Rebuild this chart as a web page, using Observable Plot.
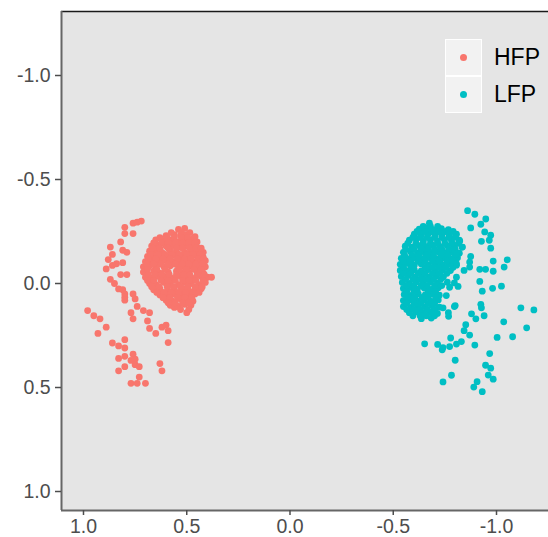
<!DOCTYPE html>
<html>
<head>
<meta charset="utf-8">
<script src="https://cdn.jsdelivr.net/npm/d3@7"></script>
<script src="https://cdn.jsdelivr.net/npm/@observablehq/plot@0.6"></script>
<style>
  html, body { margin: 0; padding: 0; background: #ffffff; }
  #wrap { position: relative; width: 548px; height: 537px; overflow: hidden; }
  #legend { position: absolute; left: 445px; top: 39px; font-family: "Liberation Sans", Arial, sans-serif; }
  .row { display: flex; align-items: center; height: 37px; }
  .key { box-sizing: border-box; width: 37px; height: 37px; background: #f2f2f2; border: 1.5px solid #ffffff; display: flex; align-items: center; justify-content: center; }
  .key span { display: block; width: 7px; height: 7px; border-radius: 50%; }
  .lab { margin-left: 12px; font-size: 23px; color: #000; line-height: 37px; }
</style>
</head>
<body>
<div id="wrap"></div>
<script>
// ---- data ----
const groups = ["HFP", "LFP"];
const groupColors = ["#F8766D", "#00BFC4"];
const tickValues = [-1.0, -0.5, 0.0, 0.5, 1.0];
const xDomain = [1.1065, -1.2518];
const yDomain = [1.0913, -1.3077];

const hfpPoints = [
  [0.54,-0.26],[0.51,-0.265],
  [0.60,-0.23],[0.56,-0.235],[0.53,-0.23],[0.50,-0.235],[0.46,-0.225],
  [0.65,-0.21],[0.61,-0.205],[0.58,-0.21],[0.54,-0.20],[0.51,-0.21],[0.48,-0.205],[0.45,-0.20],
  [0.67,-0.18],[0.64,-0.185],[0.60,-0.18],[0.57,-0.185],[0.53,-0.175],[0.50,-0.18],[0.47,-0.185],[0.44,-0.17],
  [0.68,-0.155],[0.65,-0.16],[0.62,-0.15],[0.58,-0.16],[0.55,-0.155],[0.51,-0.15],[0.48,-0.16],[0.45,-0.155],[0.42,-0.15],
  [0.69,-0.13],[0.66,-0.135],[0.63,-0.125],[0.59,-0.13],[0.56,-0.135],[0.52,-0.125],[0.49,-0.13],[0.46,-0.135],[0.42,-0.125],
  [0.70,-0.105],[0.67,-0.11],[0.64,-0.10],[0.60,-0.11],[0.57,-0.105],[0.53,-0.10],[0.50,-0.11],[0.47,-0.105],[0.43,-0.10],[0.41,-0.11],
  [0.71,-0.08],[0.68,-0.085],[0.65,-0.075],[0.61,-0.08],[0.58,-0.085],[0.54,-0.075],[0.51,-0.08],[0.48,-0.085],[0.44,-0.075],[0.41,-0.08],
  [0.71,-0.055],[0.66,-0.06],[0.63,-0.05],[0.59,-0.055],[0.55,-0.06],[0.52,-0.05],[0.49,-0.055],[0.45,-0.06],[0.42,-0.05],
  [0.70,-0.03],[0.67,-0.025],[0.64,-0.035],[0.60,-0.03],[0.57,-0.025],[0.53,-0.035],[0.50,-0.03],[0.47,-0.025],[0.43,-0.035],[0.40,-0.03],[0.38,-0.03],
  [0.68,0.00],[0.65,0.005],[0.61,-0.005],[0.58,0.00],[0.54,0.005],[0.51,-0.005],[0.48,0.00],[0.44,0.005],[0.41,-0.005],
  [0.66,0.03],[0.63,0.025],[0.59,0.035],[0.56,0.03],[0.52,0.025],[0.49,0.035],[0.46,0.03],[0.43,0.025],
  [0.63,0.055],[0.59,0.06],[0.56,0.05],[0.52,0.055],[0.49,0.06],[0.46,0.05],
  [0.60,0.08],[0.57,0.085],[0.53,0.075],[0.50,0.08],[0.47,0.085],
  [0.58,0.105],[0.54,0.11],[0.51,0.10],[0.48,0.105],[0.56,0.115],
  [0.50,0.14],
  [0.575,-0.245],[0.525,-0.245],[0.485,-0.245],
  [0.63,-0.22],[0.595,-0.22],[0.56,-0.22],[0.525,-0.22],[0.495,-0.22],[0.465,-0.22],
  [0.66,-0.195],[0.62,-0.195],[0.59,-0.195],[0.555,-0.195],[0.52,-0.195],[0.49,-0.195],[0.46,-0.195],
  [0.665,-0.17],[0.63,-0.17],[0.59,-0.17],[0.55,-0.17],[0.52,-0.17],[0.485,-0.17],[0.455,-0.17],[0.43,-0.17],
  [0.675,-0.14],[0.64,-0.14],[0.605,-0.14],[0.57,-0.14],[0.535,-0.14],[0.50,-0.14],[0.47,-0.14],[0.435,-0.14],
  [0.685,-0.118],[0.65,-0.118],[0.615,-0.118],[0.58,-0.118],[0.545,-0.118],[0.51,-0.118],[0.48,-0.118],[0.445,-0.118],[0.42,-0.118],
  [0.695,-0.093],[0.66,-0.093],[0.625,-0.093],[0.59,-0.093],[0.555,-0.093],[0.52,-0.093],[0.49,-0.093],[0.455,-0.093],[0.425,-0.093],
  [0.69,-0.068],[0.645,-0.068],[0.605,-0.068],[0.535,-0.068],[0.50,-0.068],[0.465,-0.068],[0.43,-0.068],
  [0.685,-0.042],[0.655,-0.042],[0.62,-0.042],[0.585,-0.042],[0.55,-0.042],[0.515,-0.042],[0.485,-0.042],[0.45,-0.042],[0.415,-0.042],
  [0.69,-0.015],[0.66,-0.015],[0.625,-0.015],[0.59,-0.015],[0.555,-0.015],[0.52,-0.015],[0.49,-0.015],[0.455,-0.015],[0.42,-0.015],
  [0.67,0.015],[0.635,0.015],[0.595,0.015],[0.565,0.015],[0.53,0.015],[0.495,0.015],[0.46,0.015],[0.425,0.015],
  [0.645,0.043],[0.61,0.043],[0.575,0.043],[0.54,0.043],[0.505,0.043],[0.47,0.043],[0.44,0.043],
  [0.615,0.068],[0.58,0.068],[0.545,0.068],[0.51,0.068],[0.475,0.068],
  [0.59,0.093],[0.555,0.093],[0.52,0.093],[0.49,0.093],
  [0.53,0.125],[0.49,0.125],
  [0.72,-0.30],[0.76,-0.29],[0.74,-0.295],[0.80,-0.27],[0.80,-0.24],[0.76,-0.24],[0.82,-0.20],[0.87,-0.175],
  [0.81,-0.16],[0.79,-0.15],[0.86,-0.14],[0.88,-0.115],[0.81,-0.10],[0.84,-0.095],[0.86,-0.087],[0.89,-0.07],
  [0.82,-0.043],[0.79,-0.043],[0.87,-0.02],[0.85,0.00],[0.83,0.026],[0.81,0.03],[0.80,0.05],[0.76,0.05],
  [0.80,0.066],[0.80,0.08],[0.75,0.074],[0.74,0.11],[0.98,0.13],[0.95,0.155],[0.92,0.17],[0.77,0.14],
  [0.76,0.17],[0.71,0.13],[0.68,0.14],[0.69,0.18],[0.68,0.216],[0.65,0.24],[0.62,0.21],[0.60,0.20],
  [0.59,0.227],[0.89,0.21],[0.93,0.24],[0.59,0.284],[0.86,0.286],[0.80,0.27],[0.83,0.30],[0.80,0.31],
  [0.76,0.34],[0.83,0.36],[0.80,0.35],[0.77,0.37],[0.75,0.364],[0.75,0.39],[0.73,0.40],[0.80,0.40],
  [0.83,0.42],[0.63,0.385],[0.62,0.42],[0.73,0.45],[0.77,0.48],[0.74,0.48],[0.70,0.48]
];

const lfpPoints = [
  [-0.675,-0.29],
  [-0.626,-0.261],[-0.660,-0.266],[-0.694,-0.258],[-0.733,-0.264],[-0.767,-0.259],
  [-0.602,-0.237],[-0.636,-0.232],[-0.670,-0.240],[-0.704,-0.235],[-0.738,-0.239],[-0.772,-0.233],[-0.806,-0.237],
  [-0.578,-0.208],[-0.612,-0.213],[-0.646,-0.205],[-0.680,-0.210],[-0.714,-0.204],[-0.748,-0.211],[-0.782,-0.206],[-0.820,-0.208],
  [-0.558,-0.179],[-0.592,-0.175],[-0.626,-0.182],[-0.660,-0.177],[-0.694,-0.183],[-0.728,-0.176],[-0.762,-0.181],[-0.796,-0.178],[-0.835,-0.175],
  [-0.549,-0.150],[-0.583,-0.155],[-0.617,-0.147],[-0.650,-0.152],[-0.684,-0.146],[-0.718,-0.153],[-0.752,-0.148],[-0.786,-0.151],[-0.820,-0.146],
  [-0.539,-0.121],[-0.573,-0.117],[-0.607,-0.124],[-0.641,-0.119],[-0.675,-0.125],[-0.709,-0.118],[-0.743,-0.123],[-0.777,-0.120],[-0.811,-0.124],
  [-0.534,-0.092],[-0.568,-0.097],[-0.602,-0.089],[-0.636,-0.094],[-0.670,-0.088],[-0.704,-0.095],[-0.738,-0.090],[-0.772,-0.093],[-0.806,-0.088],
  [-0.534,-0.063],[-0.568,-0.059],[-0.602,-0.066],[-0.636,-0.061],[-0.670,-0.067],[-0.704,-0.060],[-0.738,-0.065],[-0.777,-0.062],
  [-0.539,-0.034],[-0.573,-0.039],[-0.607,-0.031],[-0.641,-0.036],[-0.675,-0.030],[-0.709,-0.037],[-0.743,-0.032],
  [-0.544,-0.005],[-0.578,-0.001],[-0.612,-0.008],[-0.646,-0.003],[-0.680,-0.009],[-0.714,-0.002],[-0.762,-0.006],[-0.796,-0.003],
  [-0.549,0.024],[-0.583,0.019],[-0.617,0.027],[-0.650,0.022],[-0.684,0.028],[-0.718,0.021],
  [-0.553,0.053],[-0.587,0.057],[-0.621,0.050],[-0.655,0.055],[-0.689,0.049],[-0.723,0.056],
  [-0.549,0.082],[-0.583,0.078],[-0.617,0.085],[-0.650,0.080],[-0.684,0.086],[-0.718,0.079],
  [-0.549,0.111],[-0.587,0.115],[-0.621,0.108],[-0.655,0.113],[-0.689,0.107],[-0.723,0.114],[-0.796,0.111],
  [-0.578,0.140],[-0.612,0.136],[-0.646,0.143],[-0.680,0.138],[-0.714,0.144],[-0.767,0.140],
  [-0.636,0.169],[-0.684,0.166],
  [-0.645,-0.275],[-0.68,-0.275],[-0.715,-0.275],
  [-0.615,-0.25],[-0.65,-0.25],[-0.685,-0.25],[-0.72,-0.25],[-0.755,-0.25],[-0.79,-0.25],
  [-0.595,-0.222],[-0.63,-0.222],[-0.665,-0.222],[-0.70,-0.222],[-0.735,-0.222],[-0.77,-0.222],[-0.80,-0.222],
  [-0.57,-0.193],[-0.61,-0.193],[-0.645,-0.193],[-0.68,-0.193],[-0.715,-0.193],[-0.75,-0.193],[-0.785,-0.193],[-0.815,-0.193],
  [-0.56,-0.165],[-0.60,-0.165],[-0.635,-0.165],[-0.67,-0.165],[-0.70,-0.165],[-0.735,-0.165],[-0.77,-0.165],[-0.80,-0.165],
  [-0.555,-0.136],[-0.59,-0.136],[-0.625,-0.136],[-0.66,-0.136],[-0.695,-0.136],[-0.73,-0.136],[-0.765,-0.136],[-0.80,-0.136],
  [-0.55,-0.107],[-0.585,-0.107],[-0.62,-0.107],[-0.655,-0.107],[-0.69,-0.107],[-0.725,-0.107],[-0.76,-0.107],[-0.79,-0.107],
  [-0.55,-0.078],[-0.585,-0.078],[-0.655,-0.078],[-0.69,-0.078],[-0.72,-0.078],[-0.755,-0.078],[-0.79,-0.078],
  [-0.55,-0.049],[-0.585,-0.049],[-0.62,-0.049],[-0.655,-0.049],[-0.69,-0.049],[-0.725,-0.049],[-0.76,-0.049],
  [-0.56,-0.02],[-0.595,-0.02],[-0.63,-0.02],[-0.66,-0.02],[-0.695,-0.02],[-0.73,-0.02],
  [-0.565,0.01],[-0.60,0.01],[-0.635,0.01],[-0.665,0.01],[-0.70,0.01],[-0.735,0.01],
  [-0.565,0.038],[-0.60,0.038],[-0.67,0.038],[-0.705,0.038],
  [-0.57,0.067],[-0.605,0.067],[-0.64,0.067],[-0.67,0.067],[-0.705,0.067],
  [-0.565,0.096],[-0.60,0.096],[-0.635,0.096],[-0.67,0.096],[-0.70,0.096],
  [-0.565,0.125],[-0.60,0.125],[-0.63,0.125],[-0.665,0.125],[-0.70,0.125],
  [-0.595,0.155],[-0.63,0.155],[-0.66,0.155],[-0.70,0.155],
  [-0.86,-0.35],[-0.895,-0.333],[-0.948,-0.31],[-0.924,-0.285],[-0.875,-0.267],[-0.943,-0.248],[-0.972,-0.232],
  [-0.927,-0.203],[-0.965,-0.208],[-0.972,-0.17],[-0.822,-0.204],[-0.833,-0.175],[-0.806,-0.143],[-0.875,-0.13],
  [-0.87,-0.103],[-0.806,-0.095],[-0.984,-0.108],[-1.052,-0.114],[-1.037,-0.079],[-0.919,-0.068],[-0.947,-0.068],
  [-0.984,-0.059],[-0.87,-0.079],[-0.843,-0.063],[-0.806,-0.03],[-0.919,-0.01],[-1.024,0.013],[-0.981,0.023],
  [-0.931,0.037],[-0.814,0.014],[-0.773,0.018],[-0.757,0.058],[-0.924,0.10],[-0.927,0.117],[-0.80,0.106],
  [-0.741,0.117],[-1.118,0.117],[-1.181,0.127],[-0.879,0.146],[-0.90,0.17],[-0.94,0.155],[-0.768,0.158],
  [-1.035,0.184],[-1.146,0.213],[-0.851,0.198],[-0.843,0.227],[-0.87,0.248],[-1.003,0.259],[-1.078,0.256],
  [-0.778,0.262],[-0.83,0.279],[-0.806,0.291],[-0.773,0.303],[-0.741,0.308],[-0.895,0.296],[-0.967,0.337],
  [-0.80,0.369],[-0.947,0.393],[-0.972,0.407],[-0.96,0.44],[-0.984,0.46],[-0.782,0.441],[-0.741,0.473],
  [-0.906,0.472],[-0.89,0.498],[-0.931,0.52],
  [-0.652,0.29],[-0.715,0.293],[-0.737,0.319]
];

// ---- table for the library ----
const table = [
  ...hfpPoints.map(([x, y]) => ({x, y, group: groups[0]})),
  ...lfpPoints.map(([x, y]) => ({x, y, group: groups[1]}))
];

const fmt = d => d.toFixed(1);

const chart = Plot.plot({
  width: 548,
  height: 537,
  marginLeft: 61,
  marginRight: 0,
  marginTop: 11,
  marginBottom: 27,
  x: {domain: xDomain, label: null},
  y: {domain: yDomain, label: null},
  color: {domain: groups, range: groupColors},
  style: {fontFamily: '"Liberation Sans", Arial, sans-serif', fontSize: "19.5px", background: "#ffffff", overflow: "visible"},
  marks: [
    Plot.frame({fill: "#e5e5e5", stroke: null}),
    Plot.dot(table, {x: "x", y: "y", fill: "group", r: 3.4}),
    Plot.ruleY([yDomain[1]], {stroke: "#1a1a1a", strokeWidth: 1.6}),
    Plot.ruleX([xDomain[0]], {stroke: "#666666", strokeWidth: 2}),
    Plot.ruleY([yDomain[0]], {stroke: "#666666", strokeWidth: 2}),
    Plot.axisX({ticks: tickValues, tickFormat: fmt, tickSize: 5, tickPadding: 4, fontSize: 19.5, color: "#4d4d4d", strokeWidth: 1.5, label: null}),
    Plot.axisY({ticks: tickValues, tickFormat: fmt, tickSize: 6, tickPadding: 5, fontSize: 19.5, color: "#4d4d4d", strokeWidth: 1.5, label: null})
  ]
});

const wrap = document.getElementById("wrap");
wrap.appendChild(chart);

// legend
const legend = document.createElement("div");
legend.id = "legend";
groups.forEach((g, i) => {
  const row = document.createElement("div");
  row.className = "row";
  const key = document.createElement("div");
  key.className = "key";
  const dot = document.createElement("span");
  dot.style.background = groupColors[i];
  key.appendChild(dot);
  const lab = document.createElement("div");
  lab.className = "lab";
  lab.textContent = g;
  row.appendChild(key);
  row.appendChild(lab);
  legend.appendChild(row);
});
wrap.appendChild(legend);
</script>
</body>
</html>
